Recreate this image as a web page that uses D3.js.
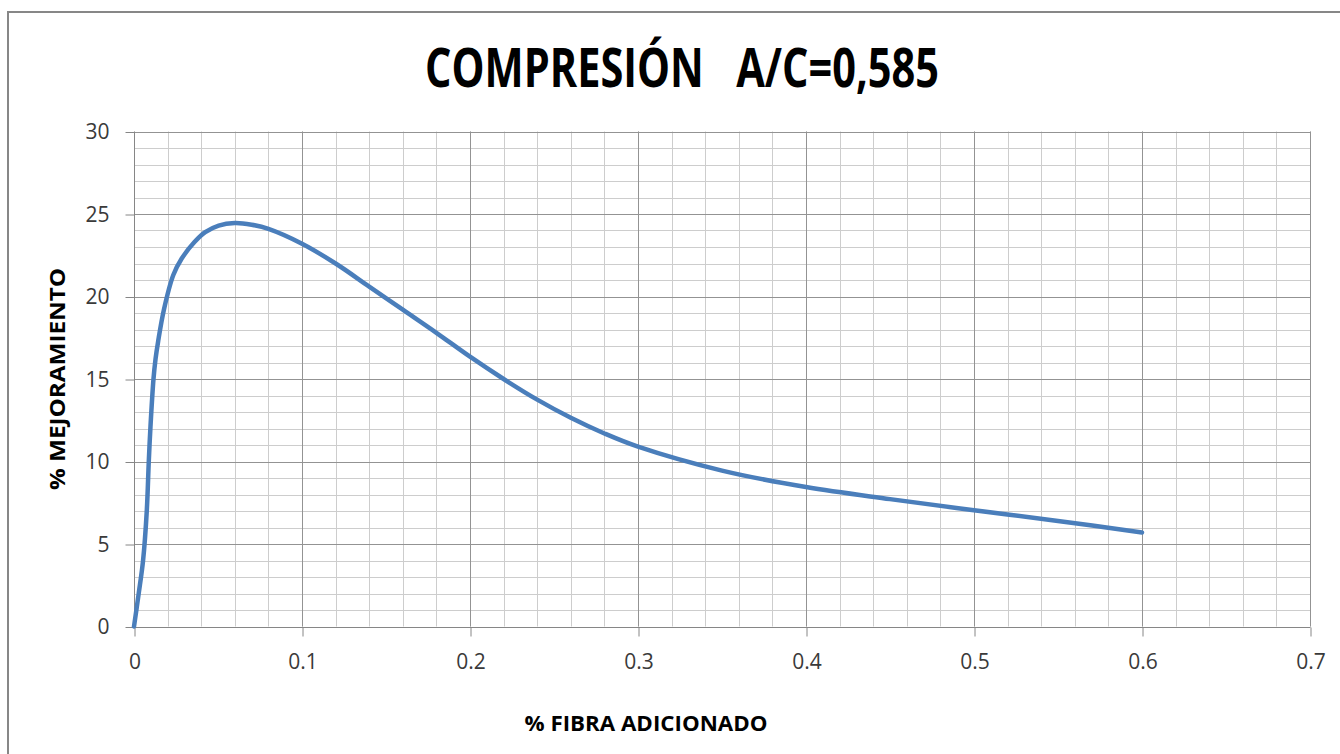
<!DOCTYPE html>
<html>
<head>
<meta charset="utf-8">
<script src="https://cdn.jsdelivr.net/npm/d3@7"></script>
<style>
  html, body { margin: 0; padding: 0; background: #fff; }
  svg { display: block; }
  text { font-family: "Open Sans", "Noto Sans", sans-serif; }
</style>
</head>
<body>
<script>
// ---- data ----
const fibra = [0, 0.0028, 0.0054, 0.0076, 0.0088, 0.0098, 0.0116, 0.0128, 0.0144, 0.0178, 0.0234, 0.0284, 0.036, 0.0424, 0.0504, 0.06, 0.07, 0.08, 0.1, 0.12, 0.14, 0.16, 0.18, 0.2, 0.22, 0.24, 0.26, 0.28, 0.3, 0.35, 0.4, 0.45, 0.5, 0.55, 0.6];
const mejora = [0, 2.0, 4.0, 7.0, 10, 12.1, 15, 16.2, 17.3, 19.2, 21.3, 22.3, 23.3, 23.9, 24.3, 24.45, 24.35, 24.1, 23.2, 22.0, 20.6, 19.2, 17.8, 16.35, 15.0, 13.75, 12.65, 11.7, 10.9, 9.45, 8.45, 7.72, 7.05, 6.4, 5.7];
const xTicks = [0, 0.1, 0.2, 0.3, 0.4, 0.5, 0.6, 0.7];
const xTickLabels = ["0", "0.1", "0.2", "0.3", "0.4", "0.5", "0.6", "0.7"];
const yTicks = [0, 5, 10, 15, 20, 25, 30];
const yTickLabels = ["0", "5", "10", "15", "20", "25", "30"];
const titleText = "COMPRESIÓN   A/C=0,585";
const xTitle = "% FIBRA ADICIONADO";
const yTitle = "% MEJORAMIENTO";

// ---- layout ----
const W = 1340, H = 754;
const svg = d3.select("body").append("svg").attr("width", W).attr("height", H);

const x = d3.scaleLinear().domain([0, 0.7]).range([134, 1310]);
const y = d3.scaleLinear().domain([0, 30]).range([626.5, 131.5]);
const px = v => Math.round(x(v)) + 0.5;
const py = v => Math.round(y(v)) + 0.5;

// outer frame
svg.append("rect").attr("x", 8).attr("y", 12).attr("width", W).attr("height", H)
  .attr("fill", "none").attr("stroke", "#878787").attr("stroke-width", 2);

// title
svg.append("text").attr("x", 682).attr("y", 87).attr("text-anchor", "middle")
  .attr("font-size", 53).attr("font-weight", "bold").attr("fill", "#000")
  .style("white-space", "pre")
  .attr("textLength", 514).attr("lengthAdjust", "spacingAndGlyphs")
  .text(titleText);

// grid
const g = svg.append("g");
const minorX = d3.range(0, 36).map(i => i * 0.02);
const minorY = d3.range(0, 31);
g.selectAll("line.mx").data(minorX).join("line")
  .attr("x1", d => px(d)).attr("x2", d => px(d))
  .attr("y1", y(0)).attr("y2", y(30))
  .attr("stroke", "#cdcdcd").attr("stroke-width", 1);
g.selectAll("line.my").data(minorY).join("line")
  .attr("y1", d => py(d)).attr("y2", d => py(d))
  .attr("x1", x(0)).attr("x2", x(0.7))
  .attr("stroke", "#cdcdcd").attr("stroke-width", 1);
g.selectAll("line.MX").data(xTicks).join("line")
  .attr("x1", d => px(d)).attr("x2", d => px(d))
  .attr("y1", y(0)).attr("y2", y(30))
  .attr("stroke", "#939393").attr("stroke-width", 1);
g.selectAll("line.MY").data(yTicks).join("line")
  .attr("y1", d => py(d)).attr("y2", d => py(d))
  .attr("x1", x(0)).attr("x2", x(0.7))
  .attr("stroke", "#939393").attr("stroke-width", 1);

// axes
const xAxis = d3.axisBottom(x).tickValues(xTicks).tickSize(9).tickPadding(18)
  .tickFormat((d, i) => xTickLabels[i]);
const yAxis = d3.axisLeft(y).tickValues(yTicks).tickSize(9).tickPadding(16)
  .tickFormat((d, i) => yTickLabels[i]);

const gx = svg.append("g").attr("transform", `translate(0.5,${Math.round(y(0)) + 0.5})`).call(xAxis);
const gy = svg.append("g").attr("transform", `translate(${Math.round(x(0)) + 0.5},0.5)`).call(yAxis);
[gx, gy].forEach(a => {
  a.select(".domain").attr("stroke", "#868686").attr("stroke-width", 1);
  a.selectAll(".tick line").attr("stroke", "#868686");
  a.selectAll(".tick text").attr("font-family", "'Open Sans', sans-serif")
    .attr("font-size", 21).attr("fill", "#3a3a3a");
});
gx.select(".domain").attr("d", `M${x(0)},0H${x(0.7)}`);
gy.select(".domain").attr("d", `M0,${y(0)}V${y(30)}`);
gx.selectAll(".tick text").attr("dy", "0.71em");

// line
const pts = fibra.map((f, i) => [f, mejora[i]]);
svg.append("path").datum(pts)
  .attr("d", d3.line().x(d => x(d[0])).y(d => y(d[1])).curve(d3.curveCatmullRom.alpha(0.5)))
  .attr("fill", "none").attr("stroke", "#4a7ebb").attr("stroke-width", 4.5)
  .attr("stroke-linecap", "round").attr("stroke-linejoin", "round");

// axis titles
svg.append("text").attr("x", 646).attr("y", 731).attr("text-anchor", "middle")
  .attr("font-size", 21).attr("font-weight", "bold").attr("fill", "#000")
  .attr("textLength", 243).attr("lengthAdjust", "spacingAndGlyphs")
  .text(xTitle);
svg.append("text").attr("transform", "translate(65,379) rotate(-90)")
  .attr("text-anchor", "middle")
  .attr("font-size", 21).attr("font-weight", "bold").attr("fill", "#000")
  .attr("textLength", 222).attr("lengthAdjust", "spacingAndGlyphs")
  .text(yTitle);
</script>
</body>
</html>
